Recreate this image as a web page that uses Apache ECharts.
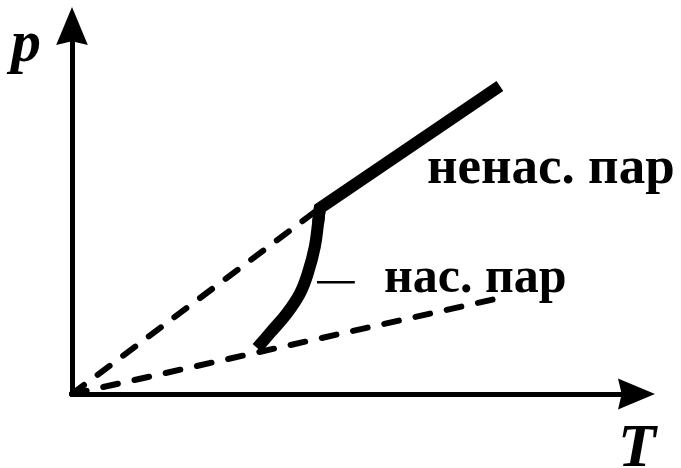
<!DOCTYPE html>
<html>
<head>
<meta charset="utf-8">
<script src="https://cdn.jsdelivr.net/npm/echarts@6/dist/echarts.min.js"></script>
<style>
  html, body { margin: 0; padding: 0; background: #fff; }
  #chart { width: 681px; height: 468px; }
</style>
</head>
<body>
<div id="chart"></div>
<script>
// p–T diagram: saturated vapour curve, then unsaturated (ideal-gas) line.
// Units are relative (0–100 of each axis).
const satCurveT = [32.8, 35.1, 38.1, 40.4, 41.8, 43.0, 43.6, 43.9];
const satCurveP = [12.5, 16.6, 22.0, 27.4, 32.9, 39.9, 46.5, 50.5];
const unsatT = [43.9, 75.8];
const unsatP = [50.5, 83.7];
// isochores through the origin
const isochoreHighT = [0, 43.9];
const isochoreHighP = [0, 50.5];
const isochoreLowT = [0, 76.7];
const isochoreLowP = [0, 26.4];
// leader line for the saturated-vapour label
const leaderT = [43.4, 50.1];
const leaderP = [30.4, 30.4];

const labelUnsat = 'ненас. пар';
const labelSat = 'нас. пар';
const axisNameP = 'p';
const axisNameT = 'T';

function pairs(xs, ys) { return xs.map((x, i) => [x, ys[i]]); }

const curvePts = pairs(satCurveT, satCurveP);
// the straight part starts on the last curve segment so the corner gets a mitre join
const straightPts = [curvePts[curvePts.length - 2]].concat(pairs(unsatT, unsatP));

const serif = 'Liberation Serif';
const arrowPath = 'path://M5,0 L10,12 L5,10.8 L0,12 Z';
const thick = { color: '#000', width: 12, cap: 'butt', join: 'miter', miterLimit: 10 };
const dashed = { color: '#000', width: 6, type: [15, 17], cap: 'round' };

const chart = echarts.init(document.getElementById('chart'), null, { renderer: 'canvas' });
chart.setOption({
  animation: false,
  backgroundColor: '#ffffff',
  grid: { left: 72, right: 44.5, top: 26, bottom: 74, containLabel: false },
  xAxis: {
    type: 'value', min: 0, max: 100,
    axisLine: { show: true, onZero: false, symbol: ['none', arrowPath], symbolSize: [33, 37],
                lineStyle: { color: '#000', width: 5 } },
    axisTick: { show: false }, axisLabel: { show: false }, splitLine: { show: false }
  },
  yAxis: {
    type: 'value', min: 0, max: 100,
    axisLine: { show: true, onZero: false, symbol: ['none', arrowPath], symbolSize: [34, 38],
                lineStyle: { color: '#000', width: 5 } },
    axisTick: { show: false }, axisLabel: { show: false }, splitLine: { show: false }
  },
  series: [
    { type: 'line', data: pairs(isochoreHighT, isochoreHighP), symbol: 'none', z: 2, lineStyle: dashed },
    { type: 'line', data: pairs(isochoreLowT, isochoreLowP), symbol: 'none', z: 2, lineStyle: dashed },
    { type: 'line', data: curvePts, symbol: 'none', smooth: 0.4, z: 3, lineStyle: thick },
    { type: 'line', data: straightPts, symbol: 'none', z: 3, lineStyle: thick },
    { type: 'line', data: pairs(leaderT, leaderP), symbol: 'none', z: 3,
      lineStyle: { color: '#000', width: 2.5 } }
  ],
  graphic: [
    { type: 'text', left: 11, top: 15, style: { text: axisNameP, font: 'italic bold 60px "' + serif + '"', fill: '#000' } },
    { type: 'text', left: 618, top: 419, style: { text: axisNameT, font: 'italic bold 62px "' + serif + '"', fill: '#000' } },
    { type: 'text', left: 427, top: 143, style: { text: labelUnsat, font: 'bold 53px "' + serif + '"', fill: '#000' } },
    { type: 'text', left: 384, top: 254, style: { text: labelSat, font: 'bold 50px "' + serif + '"', fill: '#000' } }
  ]
});
</script>
</body>
</html>
